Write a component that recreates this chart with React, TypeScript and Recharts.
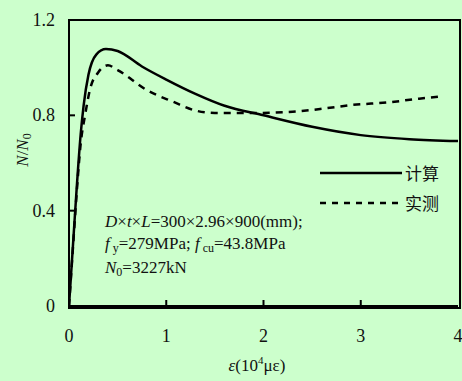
import React from 'react';
import { LineChart, Line, XAxis, YAxis } from 'recharts';

const calcX = [0, 0.04, 0.08, 0.12, 0.15, 0.2, 0.28, 0.38, 0.5, 0.75, 1.0, 1.3, 1.6, 2.0, 2.5, 3.0, 3.5, 4.0];
const calcY = [0, 0.25, 0.5, 0.72, 0.84, 0.97, 1.055, 1.078, 1.07, 1.005, 0.95, 0.89, 0.84, 0.8, 0.752, 0.717, 0.7, 0.692];
const testX = [0, 0.04, 0.08, 0.12, 0.165, 0.22, 0.3, 0.4, 0.5, 0.8, 1.07, 1.3, 1.5, 1.9, 2.3, 2.65, 2.9, 3.3, 3.6, 3.8];
const testY = [0, 0.24, 0.48, 0.68, 0.8, 0.915, 0.98, 1.01, 0.99, 0.906, 0.857, 0.82, 0.81, 0.81, 0.815, 0.83, 0.843, 0.855, 0.87, 0.878];
const xTicks = [0, 1, 2, 3, 4];
const yTicks = [0, 0.4, 0.8, 1.2];
const yTickLabels = ['0', '0.4', '0.8', '1.2'];
const seriesNames = ['计算', '实测'];

const calcData = calcX.map((x, i) => ({ x, y: calcY[i] }));
const testData = testX.map((x, i) => ({ x, y: testY[i] }));

const FONT = '"Liberation Serif", "Times New Roman", serif';
const CJK = '"Noto Sans CJK SC", sans-serif';

const W = 462;
const H = 381;
const M = { top: 20, right: 4, bottom: 45, left: 0 };
const YW = 69;
const XH = 30;
const plotL = M.left + YW;
const plotR = W - M.right;
const plotT = M.top;
const plotB = H - M.bottom - XH;

const XTick = (props: any) => {
  const { x, y, payload } = props;
  const v = payload.value;
  return (
    <g>
      {v > 0 && v < 4 ? <rect x={x - 1} y={y - 6} width={2} height={6} fill="#000" /> : null}
      <text x={x} y={y + 36} textAnchor="middle" fontFamily={FONT} fontSize={18} fill="#111">{String(v)}</text>
    </g>
  );
};

const YTick = (props: any) => {
  const { x, y, payload } = props;
  const v = payload.value;
  const idx = yTicks.indexOf(v);
  return (
    <g>
      {v > 0 && v < 1.2 ? <rect x={x} y={y - 1} width={6} height={2} fill="#000" /> : null}
      <text x={x - 14} y={y + 6} textAnchor="end" fontFamily={FONT} fontSize={18} fill="#111">{yTickLabels[idx]}</text>
    </g>
  );
};

export default function App() {
  return (
    <div style={{ position: 'fixed', left: 0, top: 0, width: W, height: H, background: '#ccffcc', overflow: 'hidden' }}>
      <div style={{ position: 'absolute', left: plotL - 1, top: plotT - 1, width: plotR - plotL, height: plotB - plotT, border: '2px solid #000' }} />
      <LineChart width={W} height={H} data={calcData} margin={M} style={{ position: 'absolute', left: 0, top: 0 }}>
        <XAxis type="number" dataKey="x" domain={[0, 4]} ticks={xTicks} tick={<XTick />} tickLine={false}
          tickSize={0} tickMargin={0} axisLine={{ stroke: '#000', strokeWidth: 2 }} height={XH} allowDataOverflow />
        <YAxis type="number" dataKey="y" domain={[0, 1.2]} ticks={yTicks} tick={<YTick />} tickLine={false}
          tickSize={0} tickMargin={0} axisLine={{ stroke: '#000', strokeWidth: 2 }} width={YW} allowDataOverflow />
        <Line data={testData} dataKey="y" type="monotone" stroke="#000" strokeWidth={2.5} strokeDasharray="7 6" dot={false} isAnimationActive={false} />
        <Line data={calcData} dataKey="y" type="monotone" stroke="#000" strokeWidth={2.5} dot={false} isAnimationActive={false} />
      </LineChart>
      <svg width={W} height={H} style={{ position: 'absolute', left: 0, top: 0, pointerEvents: 'none' }}>
        <line x1={320} x2={402} y1={173} y2={173} stroke="#000" strokeWidth={2.5} />
        <text x={405} y={180} fontFamily={CJK} fontSize={17} fill="#111">{seriesNames[0]}</text>
        <line x1={320} x2={402} y1={203} y2={203} stroke="#000" strokeWidth={2.5} strokeDasharray="6 6" />
        <text x={405} y={210} fontFamily={CJK} fontSize={17} fill="#111">{seriesNames[1]}</text>
        <text x={105} y={227} fontFamily={FONT} fontSize={17} fill="#111">
          <tspan fontStyle="italic">D</tspan>×<tspan fontStyle="italic">t</tspan>×<tspan fontStyle="italic">L</tspan>=300×2.96×900(mm);
        </text>
        <text x={105} y={249} fontFamily={FONT} fontSize={17} fill="#111">
          <tspan fontStyle="italic">f</tspan><tspan fontSize={12} dy={3}> y</tspan><tspan dy={-3}>=279MPa; </tspan><tspan fontStyle="italic">f</tspan><tspan fontSize={12} dy={3}> cu</tspan><tspan dy={-3}>=43.8MPa</tspan>
        </text>
        <text x={105} y={273} fontFamily={FONT} fontSize={17} fill="#111">
          <tspan fontStyle="italic">N</tspan><tspan fontSize={12} dy={3}>0</tspan><tspan dy={-3}>=3227kN</tspan>
        </text>
        <text x={257} y={371} textAnchor="middle" fontFamily={FONT} fontSize={17} fill="#111">
          <tspan fontStyle="italic">ε</tspan>(10<tspan fontSize={11} dy={-7}>4</tspan><tspan dy={7}>με)</tspan>
        </text>
        <text transform="translate(28,150) rotate(-90)" textAnchor="middle" fontFamily={FONT} fontSize={17} fill="#111">
          <tspan fontStyle="italic">N</tspan>/<tspan fontStyle="italic">N</tspan><tspan fontSize={12} dy={3}>0</tspan>
        </text>
      </svg>
    </div>
  );
}
